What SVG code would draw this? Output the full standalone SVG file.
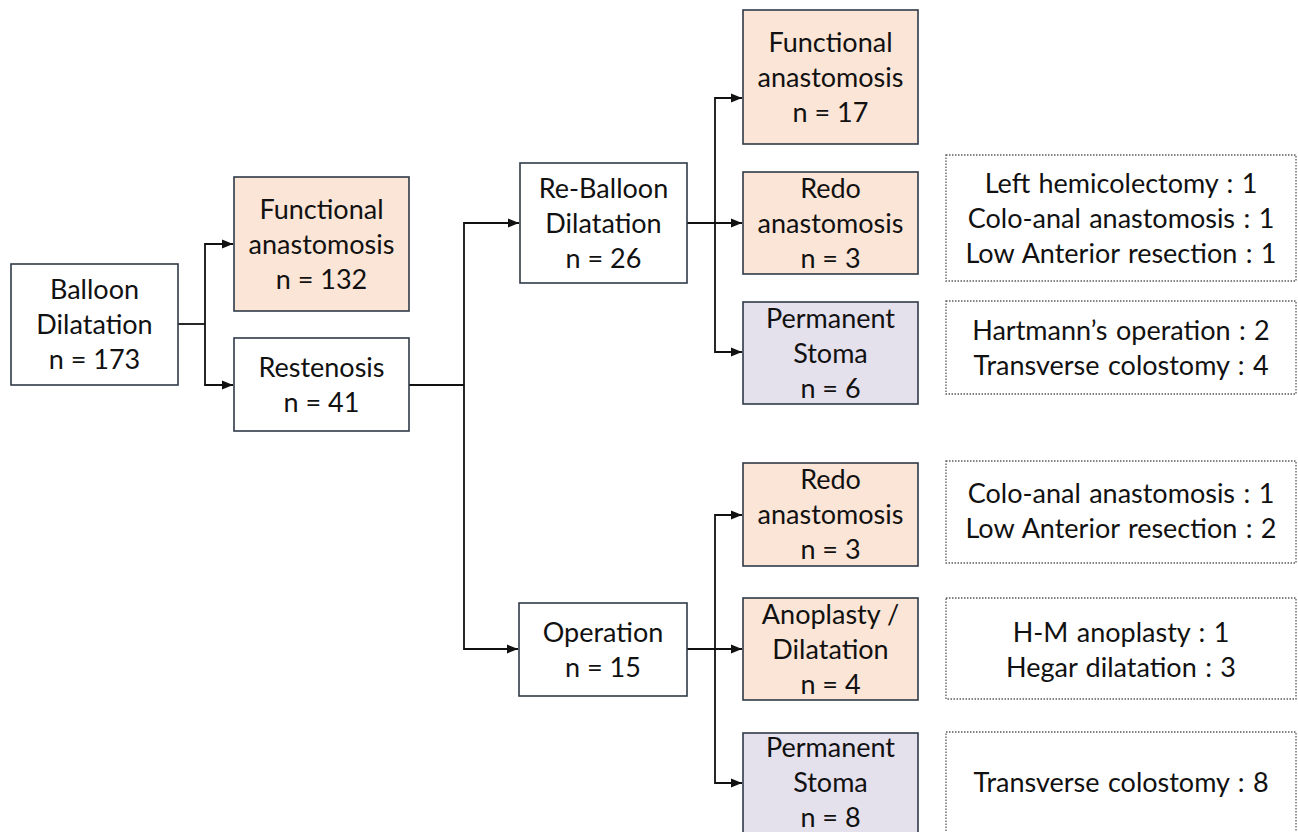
<svg xmlns="http://www.w3.org/2000/svg" width="1298" height="832" viewBox="0 0 1298 832">
<style>
  .box { stroke: #2f3a48; stroke-width: 1.6; }
  .white { fill: #ffffff; }
  .peach { fill: #fbe5d6; }
  .lav { fill: #e4e0ec; }
  .dot { fill: #ffffff; stroke: #5a5a5a; stroke-width: 1.3; stroke-dasharray: 1.5 1.5; }
  text { font-family: Lato, "Open Sans", "Liberation Sans", sans-serif; font-size: 27px; fill: #111111; text-anchor: middle; }
  .det text { word-spacing: 1.5px; }
  .conn { fill: none; stroke: #111111; stroke-width: 1.8; }
</style>
<defs>
  <marker id="arrow" viewBox="0 0 11 10" refX="11" refY="5" markerWidth="11" markerHeight="10" markerUnits="userSpaceOnUse" orient="auto">
    <path d="M0,0.5 L11,5 L0,9.5 Z" fill="#111111"/>
  </marker>
</defs>
<rect width="1298" height="832" fill="#ffffff"/>

<g id="connectors">
  <polyline class="conn" points="178,324 205,324"/>
  <polyline class="conn" points="205,324 205,244 233,244" marker-end="url(#arrow)"/>
  <polyline class="conn" points="205,324 205,385 233,385" marker-end="url(#arrow)"/>
  <polyline class="conn" points="409,385 464,385"/>
  <polyline class="conn" points="464,385 464,223 519,223" marker-end="url(#arrow)"/>
  <polyline class="conn" points="464,385 464,649 518,649" marker-end="url(#arrow)"/>
  <polyline class="conn" points="687,223 742,223" marker-end="url(#arrow)"/>
  <polyline class="conn" points="715,223 715,98 742,98" marker-end="url(#arrow)"/>
  <polyline class="conn" points="715,223 715,352 742,352" marker-end="url(#arrow)"/>
  <polyline class="conn" points="687,649 742,649" marker-end="url(#arrow)"/>
  <polyline class="conn" points="715,649 715,515 742,515" marker-end="url(#arrow)"/>
  <polyline class="conn" points="715,649 715,783 742,783" marker-end="url(#arrow)"/>
</g>

<g id="balloon">
  <rect class="box white" x="11" y="264" width="167" height="121"/>
  <text x="94.5" y="299">Balloon</text>
  <text x="94.5" y="334">Dilatation</text>
  <text x="94.5" y="369">n = 173</text>
</g>
<g id="functional132">
  <rect class="box peach" x="234" y="177" width="175" height="134"/>
  <text x="321.5" y="218.5">Functional</text>
  <text x="321.5" y="253.5">anastomosis</text>
  <text x="321.5" y="288.5">n = 132</text>
</g>
<g id="restenosis">
  <rect class="box white" x="234" y="338" width="175" height="93"/>
  <text x="321.5" y="376.5">Restenosis</text>
  <text x="321.5" y="411.5">n = 41</text>
</g>
<g id="reballoon">
  <rect class="box white" x="520" y="163" width="167" height="120"/>
  <text x="603.5" y="197.5">Re-Balloon</text>
  <text x="603.5" y="232.5">Dilatation</text>
  <text x="603.5" y="267.5">n = 26</text>
</g>
<g id="functional17">
  <rect class="box peach" x="743" y="10" width="175" height="134"/>
  <text x="830.5" y="51.5">Functional</text>
  <text x="830.5" y="86.5">anastomosis</text>
  <text x="830.5" y="121.5">n = 17</text>
</g>
<g id="redo3a">
  <rect class="box peach" x="743" y="172" width="175" height="102"/>
  <text x="830.5" y="197.5">Redo</text>
  <text x="830.5" y="232.5">anastomosis</text>
  <text x="830.5" y="267.5">n = 3</text>
</g>
<g id="stoma6">
  <rect class="box lav" x="743" y="302" width="175" height="102"/>
  <text x="830.5" y="327.5">Permanent</text>
  <text x="830.5" y="362.5">Stoma</text>
  <text x="830.5" y="397.5">n = 6</text>
</g>
<g id="operation">
  <rect class="box white" x="519" y="603" width="168" height="93"/>
  <text x="603" y="641.5">Operation</text>
  <text x="603" y="676.5">n = 15</text>
</g>
<g id="redo3b">
  <rect class="box peach" x="743" y="463" width="175" height="103"/>
  <text x="830.5" y="489">Redo</text>
  <text x="830.5" y="524">anastomosis</text>
  <text x="830.5" y="559">n = 3</text>
</g>
<g id="anoplasty">
  <rect class="box peach" x="743" y="598" width="175" height="102"/>
  <text x="830.5" y="623.5">Anoplasty /</text>
  <text x="830.5" y="658.5">Dilatation</text>
  <text x="830.5" y="693.5">n = 4</text>
</g>
<g id="stoma8">
  <rect class="box lav" x="743" y="733" width="175" height="102"/>
  <text x="830.5" y="757">Permanent</text>
  <text x="830.5" y="792">Stoma</text>
  <text x="830.5" y="827">n = 8</text>
</g>

<g id="detail1" class="det">
  <rect class="dot" x="946" y="155" width="350" height="126"/>
  <text x="1121" y="192.5">Left hemicolectomy : 1</text>
  <text x="1121" y="227.5">Colo-anal anastomosis : 1</text>
  <text x="1121" y="262.5">Low Anterior resection : 1</text>
</g>
<g id="detail2" class="det">
  <rect class="dot" x="946" y="301" width="350" height="93"/>
  <text x="1121" y="339.5">Hartmann’s operation : 2</text>
  <text x="1121" y="374.5">Transverse colostomy : 4</text>
</g>
<g id="detail3" class="det">
  <rect class="dot" x="946" y="461" width="350" height="102"/>
  <text x="1121" y="503">Colo-anal anastomosis : 1</text>
  <text x="1121" y="538">Low Anterior resection : 2</text>
</g>
<g id="detail4" class="det">
  <rect class="dot" x="946" y="598" width="350" height="101"/>
  <text x="1121" y="641.5">H-M anoplasty : 1</text>
  <text x="1121" y="676.5">Hegar dilatation : 3</text>
</g>
<g id="detail5" class="det">
  <rect class="dot" x="946" y="732" width="350" height="103"/>
  <text x="1121" y="792">Transverse colostomy : 8</text>
</g>
</svg>
